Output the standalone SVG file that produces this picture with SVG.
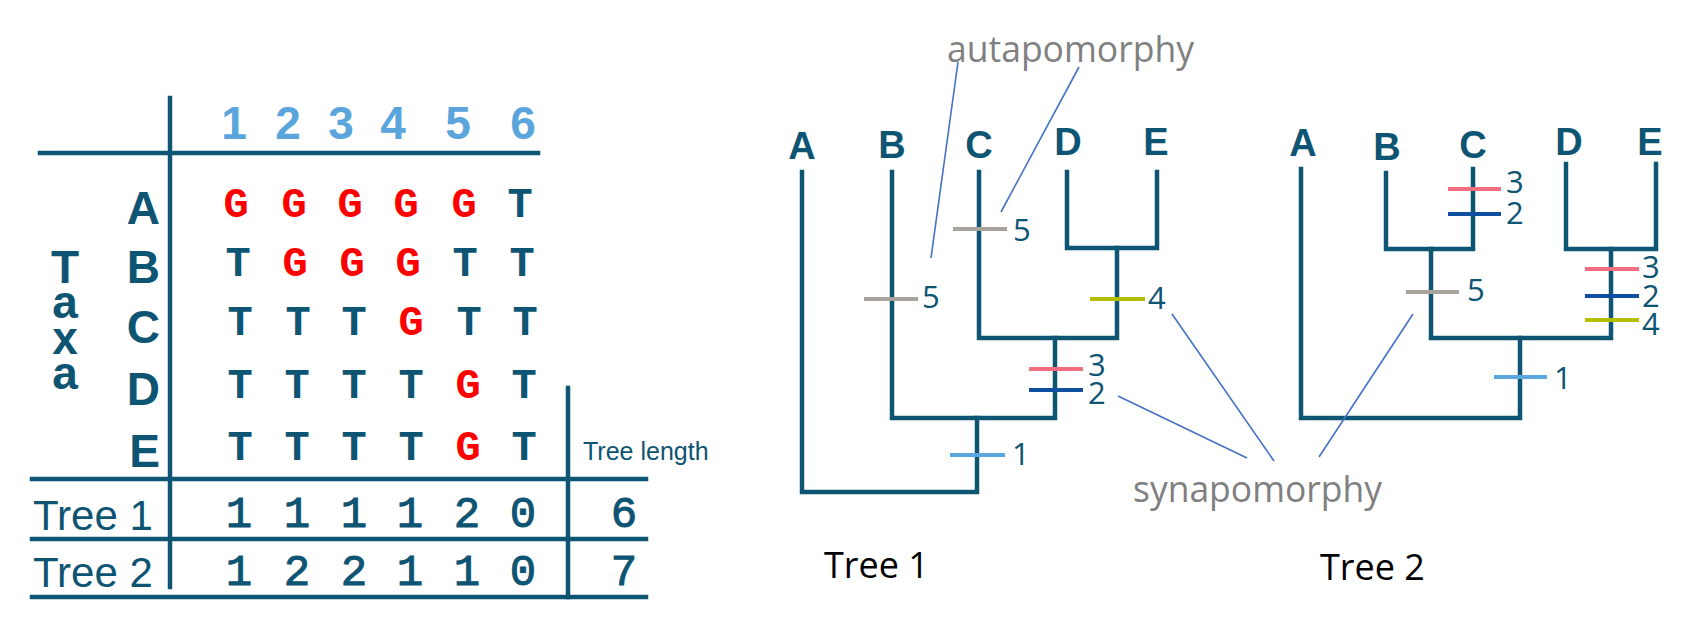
<svg xmlns="http://www.w3.org/2000/svg" width="1695" height="637" viewBox="0 0 1695 637">
<style>
.ln{stroke:#0e5473;stroke-width:4.5;fill:none;stroke-linecap:square;stroke-linejoin:miter}
.tk{stroke-width:4;fill:none}
.lead{stroke:#4472c4;stroke-width:1.6;fill:none}
.hd{font-family:"Liberation Sans",Arial,sans-serif;font-weight:bold;font-size:46px;fill:#5aa6dc;text-anchor:middle}
.rl{font-family:"Liberation Sans",Arial,sans-serif;font-weight:bold;font-size:46px;fill:#0e5473;text-anchor:end}
.tx{font-family:"Liberation Sans",Arial,sans-serif;font-weight:bold;font-size:46px;fill:#0e5473;text-anchor:middle}
.nt{font-family:"Liberation Mono","Courier New",monospace;font-weight:bold;font-size:42px;text-anchor:middle}
.T{fill:#0e5473}.G{fill:#ff0000}
.dg{font-family:"Liberation Mono","Courier New",monospace;font-size:44px;fill:#0e5473;stroke:#0e5473;stroke-width:1;text-anchor:middle}
.tr{font-family:"Liberation Sans",Arial,sans-serif;font-size:42px;fill:#0e5473}
.tl{font-family:"Liberation Sans",Arial,sans-serif;font-size:25px;fill:#0e5473}
.lf{font-family:"Liberation Sans",Arial,sans-serif;font-weight:bold;font-size:38px;fill:#0e5473;text-anchor:middle}
.num{font-family:"Open Sans","Noto Sans",sans-serif;font-size:31px;fill:#0e5473}
.lab{font-family:"Open Sans","Noto Sans",sans-serif;font-size:37px;fill:#808080}
.cap{font-family:"Open Sans","Noto Sans",sans-serif;font-size:36px;fill:#000000}
</style>

<!-- Character matrix table -->
<g id="table">
  <g id="table-lines" class="ln">
    <line x1="40" y1="153" x2="538" y2="153"/>
    <line x1="170" y1="98" x2="170" y2="587"/>
    <line x1="32" y1="479" x2="646" y2="479"/>
    <line x1="32" y1="539" x2="646" y2="539"/>
    <line x1="32" y1="597" x2="646" y2="597"/>
    <line x1="568" y1="388" x2="568" y2="597"/>
  </g>
  <g id="col-headers" class="hd">
    <text x="234" y="139">1</text>
    <text x="288" y="139">2</text>
    <text x="341" y="139">3</text>
    <text x="393" y="139">4</text>
    <text x="458" y="139">5</text>
    <text x="523" y="139">6</text>
  </g>
  <g id="taxa-label" class="tx">
    <text x="65" y="283">T</text>
    <text x="65" y="318">a</text>
    <text x="65" y="354">x</text>
    <text x="65" y="389">a</text>
  </g>
  <g id="row-labels" class="rl">
    <text x="160" y="224">A</text>
    <text x="160" y="283">B</text>
    <text x="160" y="343">C</text>
    <text x="160" y="405">D</text>
    <text x="160" y="467">E</text>
  </g>
  <g id="row-A" class="nt">
    <text class="G" x="236" y="217">G</text>
    <text class="G" x="294" y="217">G</text>
    <text class="G" x="350" y="217">G</text>
    <text class="G" x="406" y="217">G</text>
    <text class="G" x="464" y="217">G</text>
    <text class="T" x="520" y="217">T</text>
  </g>
  <g id="row-B" class="nt">
    <text class="T" x="238" y="276">T</text>
    <text class="G" x="295" y="276">G</text>
    <text class="G" x="352" y="276">G</text>
    <text class="G" x="408" y="276">G</text>
    <text class="T" x="465" y="276">T</text>
    <text class="T" x="522" y="276">T</text>
  </g>
  <g id="row-C" class="nt">
    <text class="T" x="240" y="335">T</text>
    <text class="T" x="298" y="335">T</text>
    <text class="T" x="354" y="335">T</text>
    <text class="G" x="411" y="335">G</text>
    <text class="T" x="469" y="335">T</text>
    <text class="T" x="525" y="335">T</text>
  </g>
  <g id="row-D" class="nt">
    <text class="T" x="240" y="398">T</text>
    <text class="T" x="297" y="398">T</text>
    <text class="T" x="354" y="398">T</text>
    <text class="T" x="411" y="398">T</text>
    <text class="G" x="468" y="398">G</text>
    <text class="T" x="524" y="398">T</text>
  </g>
  <g id="row-E" class="nt">
    <text class="T" x="240" y="460">T</text>
    <text class="T" x="297" y="460">T</text>
    <text class="T" x="354" y="460">T</text>
    <text class="T" x="411" y="460">T</text>
    <text class="G" x="468" y="460">G</text>
    <text class="T" x="524" y="460">T</text>
  </g>
  <text id="tree-length-header" class="tl" x="583" y="460">Tree length</text>
  <g id="row-tree1">
    <text class="tr" x="33" y="530">Tree 1</text>
    <g class="dg">
      <text x="239" y="527">1</text>
      <text x="297" y="527">1</text>
      <text x="354" y="527">1</text>
      <text x="410" y="527">1</text>
      <text x="467" y="527">2</text>
      <text x="523" y="527">0</text>
      <text x="624" y="527">6</text>
    </g>
  </g>
  <g id="row-tree2">
    <text class="tr" x="33" y="587">Tree 2</text>
    <g class="dg">
      <text x="239" y="585">1</text>
      <text x="297" y="585">2</text>
      <text x="354" y="585">2</text>
      <text x="410" y="585">1</text>
      <text x="467" y="585">1</text>
      <text x="523" y="585">0</text>
      <text x="624" y="585">7</text>
    </g>
  </g>
</g>

<!-- Tree 1 -->
<g id="tree1">
  <g id="t1-leaves" class="lf">
    <text id="t1-A" x="802" y="159">A</text>
    <text id="t1-B" x="892" y="158">B</text>
    <text id="t1-C" x="979" y="158">C</text>
    <text id="t1-D" x="1068" y="155">D</text>
    <text id="t1-E" x="1156" y="155">E</text>
  </g>
  <g id="t1-branches" class="ln">
    <path d="M802,172 V492 H977 V418"/>
    <path d="M892,172 V418 H1055 V338"/>
    <path d="M979,172 V338 H1117 V248"/>
    <path d="M1067,172 V248 H1157 V172"/>
  </g>
  <g id="t1-ticks" class="tk">
    <line x1="864" y1="299" x2="918" y2="299" stroke="#a9a39e"/>
    <line x1="953" y1="229" x2="1007" y2="229" stroke="#a9a39e"/>
    <line x1="1090" y1="299" x2="1145" y2="299" stroke="#b5bd00"/>
    <line x1="1029" y1="369" x2="1083" y2="369" stroke="#f26d7d"/>
    <line x1="1029" y1="390" x2="1083" y2="390" stroke="#0e4fa0"/>
    <line x1="950" y1="455" x2="1005" y2="455" stroke="#5aa7e0"/>
  </g>
  <g id="t1-tick-labels" class="num">
    <text x="922" y="308">5</text>
    <text x="1013" y="241">5</text>
    <text x="1148" y="309">4</text>
    <text x="1088" y="376">3</text>
    <text x="1088" y="404">2</text>
    <text x="1012" y="465">1</text>
  </g>
  <text id="t1-caption" class="cap" x="824" y="578">Tree 1</text>
</g>

<!-- Tree 2 -->
<g id="tree2">
  <g id="t2-leaves" class="lf">
    <text id="t2-A" x="1303" y="156">A</text>
    <text id="t2-B" x="1387" y="160">B</text>
    <text id="t2-C" x="1473" y="158">C</text>
    <text id="t2-D" x="1569" y="155">D</text>
    <text id="t2-E" x="1650" y="155">E</text>
  </g>
  <g id="t2-branches" class="ln">
    <path d="M1301,169 V418 H1520 V338"/>
    <path d="M1386,173 V249 H1473 V169"/>
    <path d="M1431,249 V338 H1611 V249"/>
    <path d="M1566,164 V249 H1656 V164"/>
  </g>
  <g id="t2-ticks" class="tk">
    <line x1="1448" y1="189" x2="1501" y2="189" stroke="#f26d7d"/>
    <line x1="1448" y1="214" x2="1501" y2="214" stroke="#0e4fa0"/>
    <line x1="1406" y1="292" x2="1459" y2="292" stroke="#a9a39e"/>
    <line x1="1585" y1="269" x2="1639" y2="269" stroke="#f26d7d"/>
    <line x1="1585" y1="296" x2="1639" y2="296" stroke="#0e4fa0"/>
    <line x1="1585" y1="320" x2="1639" y2="320" stroke="#b5bd00"/>
    <line x1="1494" y1="377" x2="1547" y2="377" stroke="#5aa7e0"/>
  </g>
  <g id="t2-tick-labels" class="num">
    <text x="1506" y="193">3</text>
    <text x="1506" y="224">2</text>
    <text x="1467" y="301">5</text>
    <text x="1642" y="278">3</text>
    <text x="1642" y="307">2</text>
    <text x="1642" y="335">4</text>
    <text x="1554" y="389">1</text>
  </g>
  <text id="t2-caption" class="cap" x="1320" y="580">Tree 2</text>
</g>

<!-- Annotations -->
<g id="annotations">
  <text id="autapomorphy" class="lab" x="947" y="62" textLength="247" lengthAdjust="spacingAndGlyphs">autapomorphy</text>
  <text id="synapomorphy" class="lab" x="1133" y="502" textLength="249" lengthAdjust="spacingAndGlyphs">synapomorphy</text>
</g>
<g id="connectors" class="lead">
  <line x1="958" y1="62" x2="931" y2="258"/>
  <line x1="1079" y1="67" x2="1001" y2="212"/>
  <line x1="1118" y1="396" x2="1247" y2="458"/>
  <line x1="1172" y1="314" x2="1274" y2="461"/>
  <line x1="1413" y1="314" x2="1319" y2="457"/>
</g>
</svg>
